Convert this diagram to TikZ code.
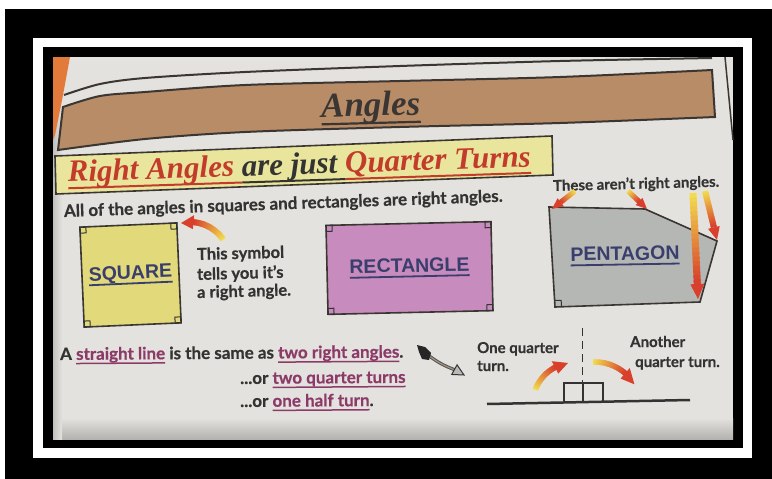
\documentclass[tikz,border=0pt]{standalone}
\usepackage{fontspec}
\usetikzlibrary{calc}
\setmainfont{Lato}[BoldFeatures={FakeBold=0.6}]
\newfontfamily\labelfont{Liberation Sans}
\newfontfamily\titlefont{Liberation Serif}
\definecolor{paper}{HTML}{E4E2DE}
\definecolor{paperdark}{HTML}{B4B2AE}
\definecolor{bandbrown}{HTML}{B98C68}
\definecolor{outlinec}{HTML}{3B3632}
\definecolor{boxyellow}{HTML}{E9E59C}
\definecolor{sqfill}{HTML}{E2D97A}
\definecolor{rectfill}{HTML}{C88BBD}
\definecolor{pentfill}{HTML}{B5B7B5}
\definecolor{navy}{HTML}{3A3E6C}
\definecolor{ink}{HTML}{333333}
\definecolor{titleink}{HTML}{3A3633}
\definecolor{hred}{HTML}{C23B2B}
\definecolor{plum}{HTML}{8C3B69}
\definecolor{ayellow}{HTML}{F2DC4E}
\definecolor{ared}{HTML}{D8402C}
\definecolor{orangestrip}{HTML}{E27A3C}
\definecolor{shaftc}{HTML}{5A544E}
\definecolor{shaftl}{HTML}{9A948C}
\newcommand{\myul}[2]{\setbox0\hbox{#2}\leavevmode\rlap{\rule[\dimexpr-0.17em-#1\relax]{\wd0}{#1}}\box0}
% curved gradient arrow: #1 centre, #2 radius, #3 tail angle, #4 head-base angle, #5 tip angle, #6 width, #7 head half width
\newcommand{\gradarc}[7]{%
  \foreach \k in {0,...,29}{%
    \pgfmathsetmacro\angA{(#3)+((#4)-(#3))*\k/30}%
    \pgfmathsetmacro\angB{(#3)+((#4)-(#3))*(\k+1.6)/30}%
    \pgfmathtruncatemacro\mixp{100-\k*100/29}%
    \draw[line width=#6, draw=ayellow!\mixp!ared] ($(#1)+(\angA:#2)$) arc[start angle=\angA, end angle=\angB, radius=#2];%
  }%
  \fill[ared] ($(#1)+({#5}:{#2})$) -- ($(#1)+({#4}:{#2+#7})$) -- ($(#1)+({#4}:{#2-#7})$) -- cycle;%
}
% straight gradient arrow: #1 tail, #2 tip, #3 width, #4 head length
\newcommand{\gradline}[4]{%
  \coordinate (hb) at ($(#2)!#4!(#1)$);%
  \foreach \k in {0,...,19}{%
    \pgfmathsetmacro\tA{\k/20}%
    \pgfmathsetmacro\tB{min(1,(\k+1.6)/20)}%
    \pgfmathtruncatemacro\mixp{100-\k*100/19}%
    \draw[line width=#3, draw=ayellow!\mixp!ared] ($(#1)!\tA!(hb)$) -- ($(#1)!\tB!(hb)$);%
  }%
  \fill[ared] (#2) -- ($(hb)!#3!90:(#2)$) -- ($(hb)!#3!-90:(#2)$) -- cycle;%
}
\begin{document}
\begin{tikzpicture}[x=1pt,y=-1pt,
  body/.style={font=\bfseries\fontsize{17}{19}\selectfont, text=ink, inner sep=0pt, anchor=base west},
  smallbody/.style={body, font=\bfseries\fontsize{15}{17}\selectfont},
  shapelabel/.style={font=\labelfont\bfseries\fontsize{19.5}{22}\selectfont, text=navy, inner sep=0pt},
  marker/.style={draw=ink, line width=1pt},
  outline/.style={draw=outlinec, line width=1.6pt},
  bandline/.style={draw=outlinec, line width=2pt}]
\useasboundingbox (0,0) rectangle (772,479);
% frames
\fill[white] (0,0) rectangle (772,479);
\fill[black] (5,9) rectangle (772,479);
\fill[white] (33,38) rectangle (752,458);
\fill[black] (43,47) rectangle (743,448);
\fill[paper] (53,57) rectangle (733,439);
\shade[top color=paper, bottom color=paperdark] (53,418) rectangle (733,439);
\shade[left color=paperdark!70!paper, right color=paper] (53,57) rectangle (62,439);
\draw[outlinec, line width=1.5pt] (725,57) -- (733,140);
\fill[orangestrip] (53,57) -- (70,57) -- (63,95) -- (55,135) -- (53,140) -- cycle;
% top band
\draw[bandline] plot[smooth] coordinates {(64,95) (100,84) (145,78) (245,72) (400,66) (560,61) (712,58)};
\fill[bandbrown] plot[smooth] coordinates {(63,107) (100,96) (145,92) (245,85) (400,81) (560,77) (712,70)}
  -- (715,117) -- plot[smooth] coordinates {(715,117) (560,123) (400,127) (245,132) (145,139) (58,150)} -- cycle;
\draw[bandline] plot[smooth] coordinates {(63,107) (100,96) (145,92) (245,85) (400,81) (560,77) (712,70)}
  -- (715,117) -- plot[smooth] coordinates {(715,117) (560,123) (400,127) (245,132) (145,139) (58,150)} -- cycle;
\node[font=\titlefont\bfseries\itshape\fontsize{35}{38}\selectfont, text=titleink, rotate=1.5, inner sep=0pt, anchor=base] (title) at (371,116) {\myul{2.2pt}{Angles}};
% subtitle box
\draw[outline, fill=boxyellow] (55,156) -- (552,136) -- (553,175) -- (56,194) -- cycle;
\node[font=\titlefont\bfseries\itshape\fontsize{31}{34}\selectfont, text=ink, rotate=1.9, inner sep=0pt, anchor=base west] (sub) at (68,182)
  {\textcolor{hred}{\myul{2pt}{Right Angles }}\myul{2pt}{are just }\textcolor{hred}{\myul{2pt}{Quarter Turns}}};
\node[body, rotate=2] (intro) at (64,217) {All of the angles in squares and rectangles are right angles.};
% square
\begin{scope}[shift={(130.5,275)}, rotate=2.5]
  \draw[outline, fill=sqfill] (-48.5,-50) rectangle (48.5,50);
  \foreach \sx/\sy in {-1/-1,1/-1,1/1,-1/1}{\draw[marker] (\sx*48.5,\sy*50) rectangle (\sx*42.5,\sy*44);}
  \node[shapelabel, rotate=2.5] (sq) at (0,0) {\myul{1.8pt}{SQUARE}};
\end{scope}
\coordinate (c1) at (190,262);
\gradarc{c1}{40}{-34}{-85}{-103}{6pt}{7}
\node[body, font=\bfseries\fontsize{16.5}{18}\selectfont, rotate=1.5] (sym1) at (197,260) {This symbol};
\node[body, font=\bfseries\fontsize{16.5}{18}\selectfont, rotate=1.5] (sym2) at (197,280) {tells you it's};
\node[body, font=\bfseries\fontsize{16.5}{18}\selectfont, rotate=1.5] (sym3) at (197,298) {a right angle.};
% rectangle
\begin{scope}[shift={(409.5,268)}, rotate=1.3]
  \draw[outline, fill=rectfill] (-82.5,-44.5) rectangle (82.5,44.5);
  \foreach \sx/\sy in {-1/-1,1/-1,1/1,-1/1}{\draw[marker] (\sx*82.5,\sy*44.5) rectangle (\sx*76.5,\sy*38.5);}
  \node[shapelabel, rotate=1.3] (rect) at (0,0) {\myul{1.8pt}{RECTANGLE}};
\end{scope}
% pentagon
\coordinate (p1) at (549,207);
\coordinate (p2) at (645,209);
\coordinate (p3) at (717,241);
\coordinate (p4) at (700,302);
\coordinate (p5) at (555,307);
\draw[outline, fill=pentfill] (p1) -- (p2) -- (p3) -- (p4) -- (p5) -- cycle;
\draw[marker] (554.6,300.5) -- (561.2,300.3) -- (561.4,306.8);
\node[shapelabel, rotate=1] (pent) at (625,256) {\myul{1.8pt}{PENTAGON}};
\node[smallbody, rotate=1.5] (these) at (553,191) {These aren't right angles.};
\coordinate (t1) at (575,191); \coordinate (h1) at (552,209);
\coordinate (t2) at (628,191); \coordinate (h2) at (647,209);
\coordinate (t3) at (693,193); \coordinate (h3) at (698,299);
\coordinate (t4) at (705,191); \coordinate (h4) at (717,240);
\gradline{t1}{h1}{5pt}{11pt}
\gradline{t2}{h2}{5pt}{11pt}
\gradline{t3}{h3}{7pt}{15pt}
\gradline{t4}{h4}{6pt}{13pt}
% straight line text
\node[body, rotate=0.4] (sl1) at (60,360) {A \textcolor{plum}{\myul{1.5pt}{straight line}} is the same as \textcolor{plum}{\myul{1.5pt}{two right angles}}.};
\node[body, rotate=0.4] (sl2) at (240,384) {...or \textcolor{plum}{\myul{1.5pt}{two quarter turns}}};
\node[body, rotate=0.4] (sl3) at (240,407) {...or \textcolor{plum}{\myul{1.5pt}{one half turn}}.};
% grey arrow
\coordinate (gtail) at (428,355);
\coordinate (gtip) at (464,375);
\coordinate (ghb) at ($(gtip)!11pt!(gtail)$);
\draw[line width=3.2pt, draw=shaftc] (gtail) to[bend right=8] (ghb);
\draw[line width=1.2pt, draw=shaftl] (gtail) to[bend right=8] (ghb);
\filldraw[fill=gray!55, draw=ink, line width=1pt] (gtip) -- ($(ghb)!5.5pt!90:(gtip)$) -- ($(ghb)!5.5pt!-90:(gtip)$) -- cycle;
\fill[black!85] (417,345) -- (425,347) -- (431,353) -- (429,360) -- (422,359) -- (419,352) -- cycle;
% half turn diagram
\node[smallbody] (oq1) at (477,353) {One quarter};
\node[smallbody] (oq2) at (477,371) {turn.};
\node[smallbody] (an1) at (630,347) {Another};
\node[smallbody] (an2) at (635,367) {quarter turn.};
\coordinate (gl) at (487,404);
\coordinate (gr) at (690,400);
\draw[ink, line width=1.2pt] (564,401.5) rectangle (583,383);
\draw[ink, line width=1.2pt] (583,401.3) rectangle (603,383);
\draw[ink, line width=1.2pt, dash pattern=on 8pt off 5pt] (582.8,328) -- (582.8,383);
\draw[ink, line width=2.5pt] (gl) -- (gr);
\coordinate (c2) at (575,405);
\gradarc{c2}{42.6}{-159}{-118}{-99.5}{5.5pt}{7}
\coordinate (c3) at (595,408);
\gradarc{c3}{46}{-92.5}{-49}{-31}{5.5pt}{7}
\end{tikzpicture}
\end{document}
